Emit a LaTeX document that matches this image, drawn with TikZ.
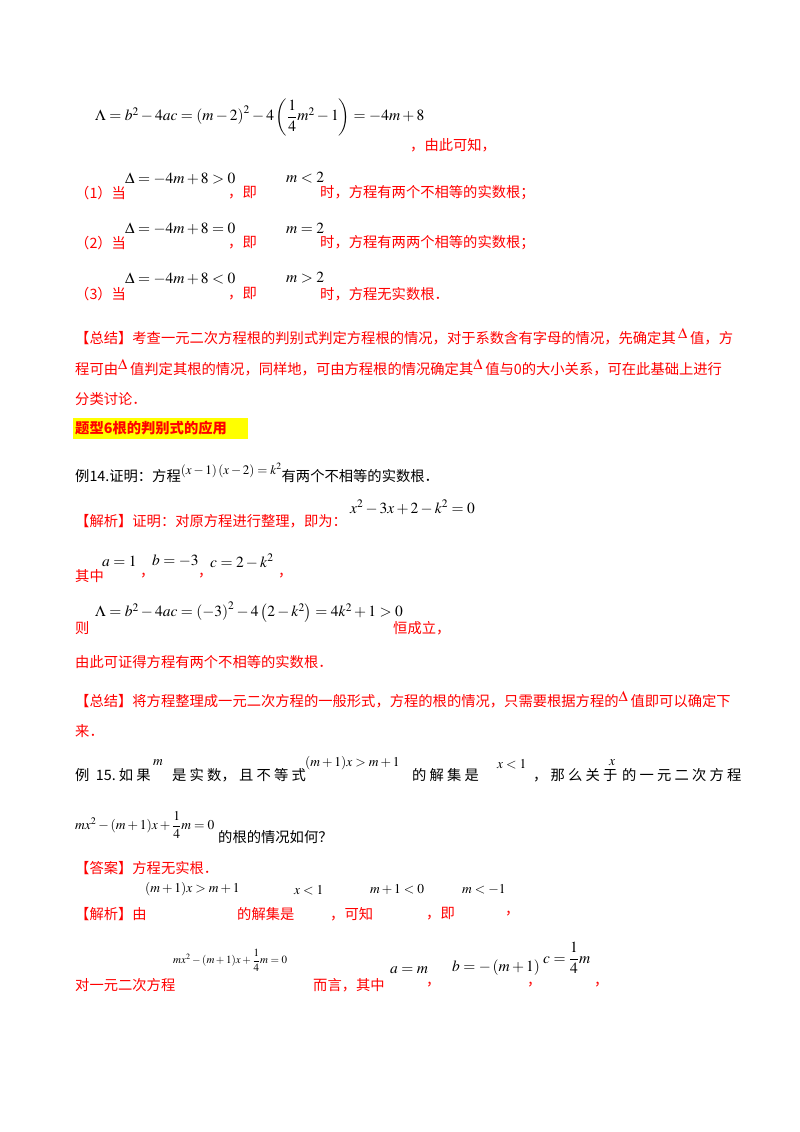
\documentclass[tikz,border=0pt]{standalone}
\usepackage{amsmath}
\usepackage{mathptmx}
\usepackage{fontspec}
\setmainfont{Liberation Serif}
\newfontfamily\cjk{Noto Sans CJK SC}
\definecolor{zred}{HTML}{FF0000}
\definecolor{hl}{HTML}{FFFF00}
\tikzset{
 zh/.style={anchor=west,inner sep=0,text=zred,font=\cjk\fontsize{14.3}{15}\selectfont},
 zb/.style={zh,text=black},
 mt/.style={anchor=west,inner sep=0,font=\fontsize{15.5}{16}\selectfont},
 ms/.style={anchor=west,inner sep=0,font=\fontsize{13.5}{14}\selectfont}
}
\begin{document}
\begin{tikzpicture}[x=1pt,y=1pt]
\useasboundingbox[fill=white] (0,0) rectangle (800,-1132);
\node[mt] (f1) at (95,-117) {$\Lambda=b^2-4ac=\left(m-2\right)^2-4\left(\dfrac14 m^2-1\right)=-4m+8$};
\node[zh] (t1) at (410,-145) {，由此可知，};
\node[zh] (c1) at (75,-193) {（1）当};
\node[mt] (d1) at (125,-179) {$\Delta=-4m+8>0$};
\node[zh] (c1b) at (228,-193) {，即};
\node[mt] (e1) at (286,-178) {$m<2$};
\node[zh] (c1c) at (320,-193) {时，方程有两个不相等的实数根；};
\node[zh] (c2) at (75,-243) {（2）当};
\node[mt] (d2) at (125,-229) {$\Delta=-4m+8=0$};
\node[zh] (c2b) at (228,-243) {，即};
\node[mt] (e2) at (286,-228) {$m=2$};
\node[zh] (c2c) at (320,-243) {时，方程有两两个相等的实数根；};
\node[zh] (c3) at (75,-294) {（3）当};
\node[mt] (d3) at (125,-279) {$\Delta=-4m+8<0$};
\node[zh] (c3b) at (228,-294) {，即};
\node[mt] (e3) at (286,-278) {$m>2$};
\node[zh] (c3c) at (320,-294) {时，方程无实数根．};
\node[zh] (s1) at (75,-337) {【总结】考查一元二次方程根的判别式判定方程根的情况，对于系数含有字母的情况，先确定其\,\rlap{\raisebox{5pt}{\fontsize{15}{15}\selectfont$\Delta$}}\hspace{12pt}值，方};
\node[zh] (s2) at (75,-368) {程可由\rlap{\raisebox{5pt}{\fontsize{15}{15}\selectfont$\Delta$}}\hspace{12pt}值判定其根的情况，同样地，可由方程根的情况确定其\rlap{\raisebox{5pt}{\fontsize{15}{15}\selectfont$\Delta$}}\hspace{12pt}值与0的大小关系，可在此基础上进行};
\node[zh] (s3) at (75,-399) {分类讨论．};
\fill[hl] (73,-418) rectangle (248,-439);
\node[zh,font=\cjk\bfseries\fontsize{14.3}{15}\selectfont] (h) at (75,-428) {题型6根的判别式的应用};
\node[zb] (x14) at (75,-473) {例14.证明：方程\raisebox{7pt}{\fontsize{13}{13}\selectfont$\left(x-1\right)\left(x-2\right)=k^2$}有两个不相等的实数根．};
\node[mt] (g1) at (350,-507) {$x^2-3x+2-k^2=0$};
\node[zh] (j1) at (75,-521) {【解析】证明：对原方程进行整理，即为：};
\node[zh] (q1) at (75,-576) {其中};
\node[mt] (a1) at (102,-561) {$a=1$};
\node[zh] (q2) at (140,-576) {，};
\node[mt] (b1) at (152,-561) {$b=-3$};
\node[zh] (q3) at (198,-576) {，};
\node[mt] (cc1) at (210,-561) {$c=2-k^2$};
\node[zh] (q4) at (278,-576) {，};
\node[mt] (f2) at (95,-612) {$\Lambda=b^2-4ac=\left(-3\right)^2-4\left(2-k^2\right)=4k^2+1>0$};
\node[zh] (z1) at (75,-628) {则};
\node[zh] (z2) at (393,-628) {恒成立，};
\node[zh] (z3) at (75,-662) {由此可证得方程有两个不相等的实数根．};
\node[zh] (s4) at (75,-700) {【总结】将方程整理成一元二次方程的一般形式，方程的根的情况，只需要根据方程的\rlap{\raisebox{5pt}{\fontsize{15}{15}\selectfont$\Delta$}}\hspace{12pt}值即可以确定下};
\node[zh] (s5) at (75,-731) {来．};
\node[zb] (y1) at (75,-775) {例\ \ 15.\ 如\ 果};
\node[ms] (y2) at (153,-763) {$m$};
\node[zb] (y3) at (172,-775) {是\ 实\ 数，\ 且\ 不\ 等\ 式};
\node[ms] (y4) at (305,-763) {$(m+1)x>m+1$};
\node[zb] (y5) at (412,-775) {的\ 解\ 集\ 是};
\node[ms] (y6) at (497,-764) {$x<1$};
\node[zb] (y7) at (533,-775) {，\ 那\ 么\ 关\ 于};
\node[ms] (y8) at (609,-763) {$x$};
\node[zb] (y9) at (622,-775) {的\ 一\ 元\ 二\ 次\ 方\ 程};
\node[ms] (y10) at (75,-825) {$mx^2-(m+1)x+\dfrac14m=0$};
\node[zb] (y11) at (218,-837) {的根的情况如何？};
\node[zh] (an) at (75,-868) {【答案】方程无实根．};
\node[ms] (w1) at (145,-889) {$(m+1)x>m+1$};
\node[zh] (w0) at (75,-914) {【解析】由};
\node[zh] (w2) at (237,-914) {的解集是};
\node[ms] (w3) at (294,-890) {$x<1$};
\node[zh] (w4) at (330,-914) {，可知};
\node[ms] (w5) at (370,-890) {$m+1<0$};
\node[zh] (w6) at (426,-914) {，即};
\node[ms] (w7) at (462,-890) {$m<-1$};
\node[zh] (w8) at (505,-914) {，};
\node[ms,font=\fontsize{11}{12}\selectfont] (v1) at (173,-960) {$mx^2-(m+1)x+\dfrac14m=0$};
\node[zh] (v0) at (75,-985) {对一元二次方程};
\node[zh] (v2) at (313,-985) {而言，其中};
\node[mt] (v3) at (390,-970) {$a=m$};
\node[zh] (v4) at (426,-985) {，};
\node[mt] (v5) at (452,-968) {$b=-\left(m+1\right)$};
\node[zh] (v6) at (527,-985) {，};
\node[mt] (v7) at (543,-958) {$c=\dfrac14m$};
\node[zh] (v8) at (594,-985) {，};
\end{tikzpicture}
\end{document}
